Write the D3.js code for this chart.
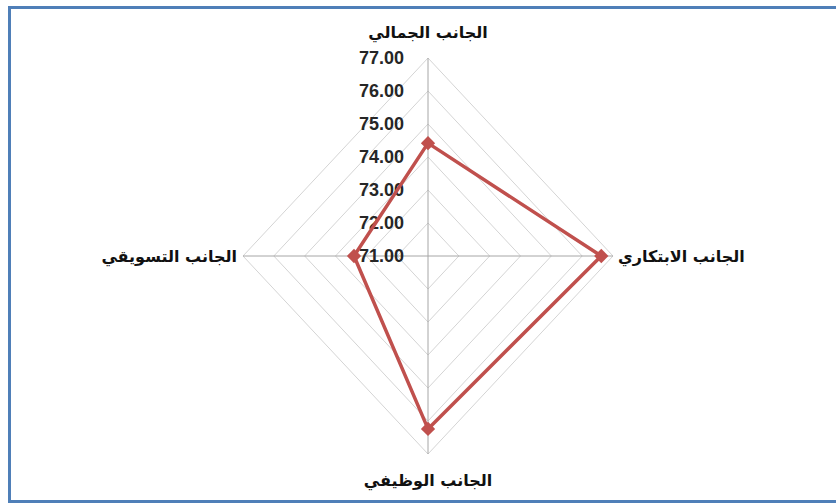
<!DOCTYPE html>
<html><head><meta charset="utf-8">
<script src="https://d3js.org/d3.v7.min.js"></script>
<style>body{margin:0;background:#fff}svg{display:block}</style>
</head><body>
<script>
const categories = ["الجانب الجمالي", "الجانب الابتكاري", "الجانب الوظيفي", "الجانب التسويقي"];
const values = [74.42, 76.62, 76.24, 73.4];
const tickValues = [71, 72, 73, 74, 75, 76, 77];

const W = 836, H = 504;
const cx = 428, cy = 256, rx = 185, ry = 198;
const svg = d3.select("body").append("svg").attr("width", W).attr("height", H);

// frame
svg.append("rect").attr("x", 9.5).attr("y", 7.5).attr("width", 840).attr("height", 494)
  .attr("fill", "#fff").attr("stroke", "#4f7fb8").attr("stroke-width", 3);

const r = d3.scaleLinear().domain([71, 77]).range([0, 1]);
const angle = d3.scaleBand().domain(categories).range([0, 2 * Math.PI]).paddingInner(0).paddingOuter(0);
const pt = (cat, v) => {
  const a = angle(cat);
  return [cx + Math.sin(a) * r(v) * rx, cy - Math.cos(a) * r(v) * ry];
};

const g = svg.append("g");
tickValues.slice(1).forEach(t => {
  const pts = categories.map(c => pt(c, t));
  g.append("polygon").attr("points", pts.map(p => p.join(",")).join(" "))
    .attr("fill", "none").attr("stroke", "#d4d4d4").attr("stroke-width", 1);
});
categories.forEach(c => {
  const [x, y] = pt(c, 77);
  g.append("line").attr("x1", cx).attr("y1", cy).attr("x2", x).attr("y2", y)
    .attr("stroke", "#a6a6a6").attr("stroke-width", 1);
});

svg.append("g").selectAll("text").data(tickValues).join("text")
  .attr("x", 404).attr("y", d => cy - r(d) * ry + 6)
  .attr("text-anchor", "end")
  .attr("font-family", "Liberation Sans, Arial, sans-serif").attr("font-weight", "bold")
  .attr("font-size", 18).attr("fill", "#262626")
  .text(d => d.toFixed(2));

const line = d3.line().curve(d3.curveLinearClosed);
const dataPts = categories.map((c, i) => pt(c, values[i]));
svg.append("path").attr("d", line(dataPts)).attr("fill", "none")
  .attr("stroke", "#c0504d").attr("stroke-width", 3.5).attr("stroke-linejoin", "round");
svg.append("g").selectAll("path").data(dataPts).join("path")
  .attr("transform", d => `translate(${d[0]},${d[1]})`)
  .attr("d", d3.symbol(d3.symbolDiamond2, 130))
  .attr("fill", "#c0504d");

const labelPos = [
  {x: cx, y: 38, anchor: "middle"},
  {x: 618, y: 262, anchor: "start"},
  {x: cx, y: 486, anchor: "middle"},
  {x: 237, y: 262, anchor: "end"}
];
svg.append("g").selectAll("text").data(categories).join("text")
  .attr("x", (d, i) => labelPos[i].x).attr("y", (d, i) => labelPos[i].y)
  .attr("text-anchor", (d, i) => labelPos[i].anchor)
  .attr("font-family", "DejaVu Sans, sans-serif").attr("font-weight", "bold")
  .attr("font-size", 16).attr("fill", "#111")
  .text(d => d);
</script>
</body></html>
